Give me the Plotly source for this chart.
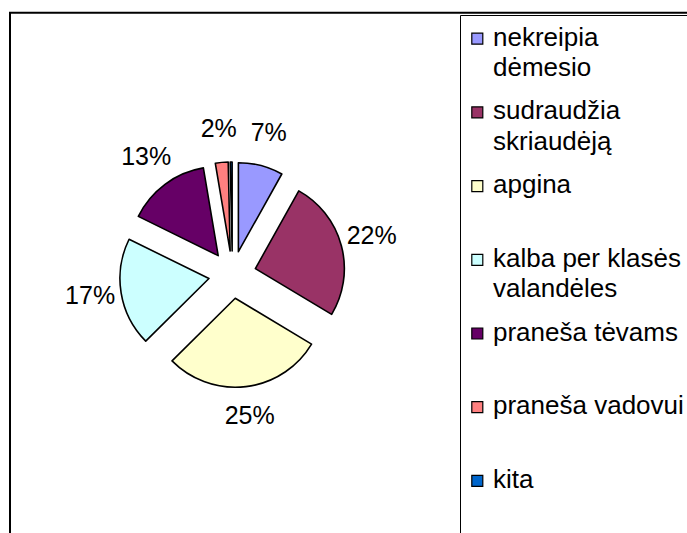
import plotly.graph_objects as go

# ---- data ----
categories = ["nekreipia dėmesio", "sudraudžia skriaudėją", "apgina",
              "kalba per klasės valandėles", "praneša tėvams", "praneša vadovui", "kita"]
legend_lines = [["nekreipia", "dėmesio"], ["sudraudžia", "skriaudėją"], ["apgina"],
                ["kalba per klasės", "valandėles"], ["praneša tėvams"],
                ["praneša vadovui"], ["kita"]]
values = [7, 22, 25, 17, 13, 2, 0.3]
value_labels = ["7%", "22%", "25%", "17%", "13%", "2%", ""]
colors = ["#9999FF", "#993366", "#FFFFCC", "#CCFFFF", "#660066", "#FF8080", "#0066CC"]

# ---- layout helpers (pixel -> paper) ----
W, H = 687, 533
def px(x):
    return x / W
def py(y):
    return 1 - y / H

FONT = "Arial, Liberation Sans, sans-serif"
FS = 25
FS_LEG = 26

cx, cy, r, pull = 232.4, 274.7, 89.0, 0.267
half = r * (1 + pull)

fig = go.Figure()
fig.add_trace(go.Pie(
    labels=categories, values=values, textinfo="none",
    sort=False, direction="clockwise", rotation=0,
    pull=[pull] * len(values),
    marker=dict(colors=colors, line=dict(color="black", width=1.6)),
    domain=dict(x=[px(cx - half), px(cx + half)], y=[py(cy + half), py(cy - half)]),
    showlegend=False, hoverinfo="label+percent",
))

# percentage labels placed outside each slice, on the slice bisector
total = sum(values)
thetas = []
acc = 0.0
for v in values:
    thetas.append((acc + v / 2) / total * 360)
    acc += v
label_r = 1.62         # in units of pie radius
Rp = 160.0             # polar subplot radius in px
fig.add_trace(go.Scatterpolar(
    r=[label_r] * len(values), theta=thetas, text=value_labels, mode="text",
    textposition="middle center", cliponaxis=False,
    textfont=dict(size=FS, color="black", family=FONT),
    showlegend=False, hoverinfo="skip",
))

shapes = [
    dict(type="rect", xref="paper", yref="paper", x0=px(10), x1=px(720),
         y0=py(12.7), y1=py(560), line=dict(color="black", width=2)),
    dict(type="rect", xref="paper", yref="paper", x0=px(460.5), x1=px(720),
         y0=py(15.5), y1=py(560), line=dict(color="black", width=1)),
]
annotations = []
sq_x, sq_size, text_x = 477.3, 11, 491
first_y, step, line_h = 38.7, 73.7, 30.5
for i, lines in enumerate(legend_lines):
    yc = first_y + i * step
    shapes.append(dict(type="rect", xref="paper", yref="paper",
                       x0=px(sq_x - sq_size / 2), x1=px(sq_x + sq_size / 2),
                       y0=py(yc - sq_size / 2), y1=py(yc + sq_size / 2),
                       fillcolor=colors[i], line=dict(color="black", width=1.2)))
    for j, t in enumerate(lines):
        annotations.append(dict(xref="paper", yref="paper", x=px(text_x),
                                y=py(yc - 2 + j * line_h), text=t, showarrow=False,
                                xanchor="left", yanchor="middle",
                                font=dict(size=FS_LEG, color="black", family=FONT)))

fig.update_layout(
    width=W, height=H, margin=dict(l=0, r=0, t=0, b=0),
    paper_bgcolor="white", plot_bgcolor="white",
    polar=dict(
        domain=dict(x=[px(cx - Rp), px(cx + Rp)], y=[py(cy + Rp), py(cy - Rp)]),
        bgcolor="rgba(0,0,0,0)",
        radialaxis=dict(range=[0, Rp / r], visible=False, showgrid=False),
        angularaxis=dict(rotation=90, direction="clockwise", visible=False, showgrid=False),
    ),
    shapes=shapes, annotations=annotations,
)

fig.write_html("out.html", post_script="document.body.style.margin='0';",
               config={"displayModeBar": False})
